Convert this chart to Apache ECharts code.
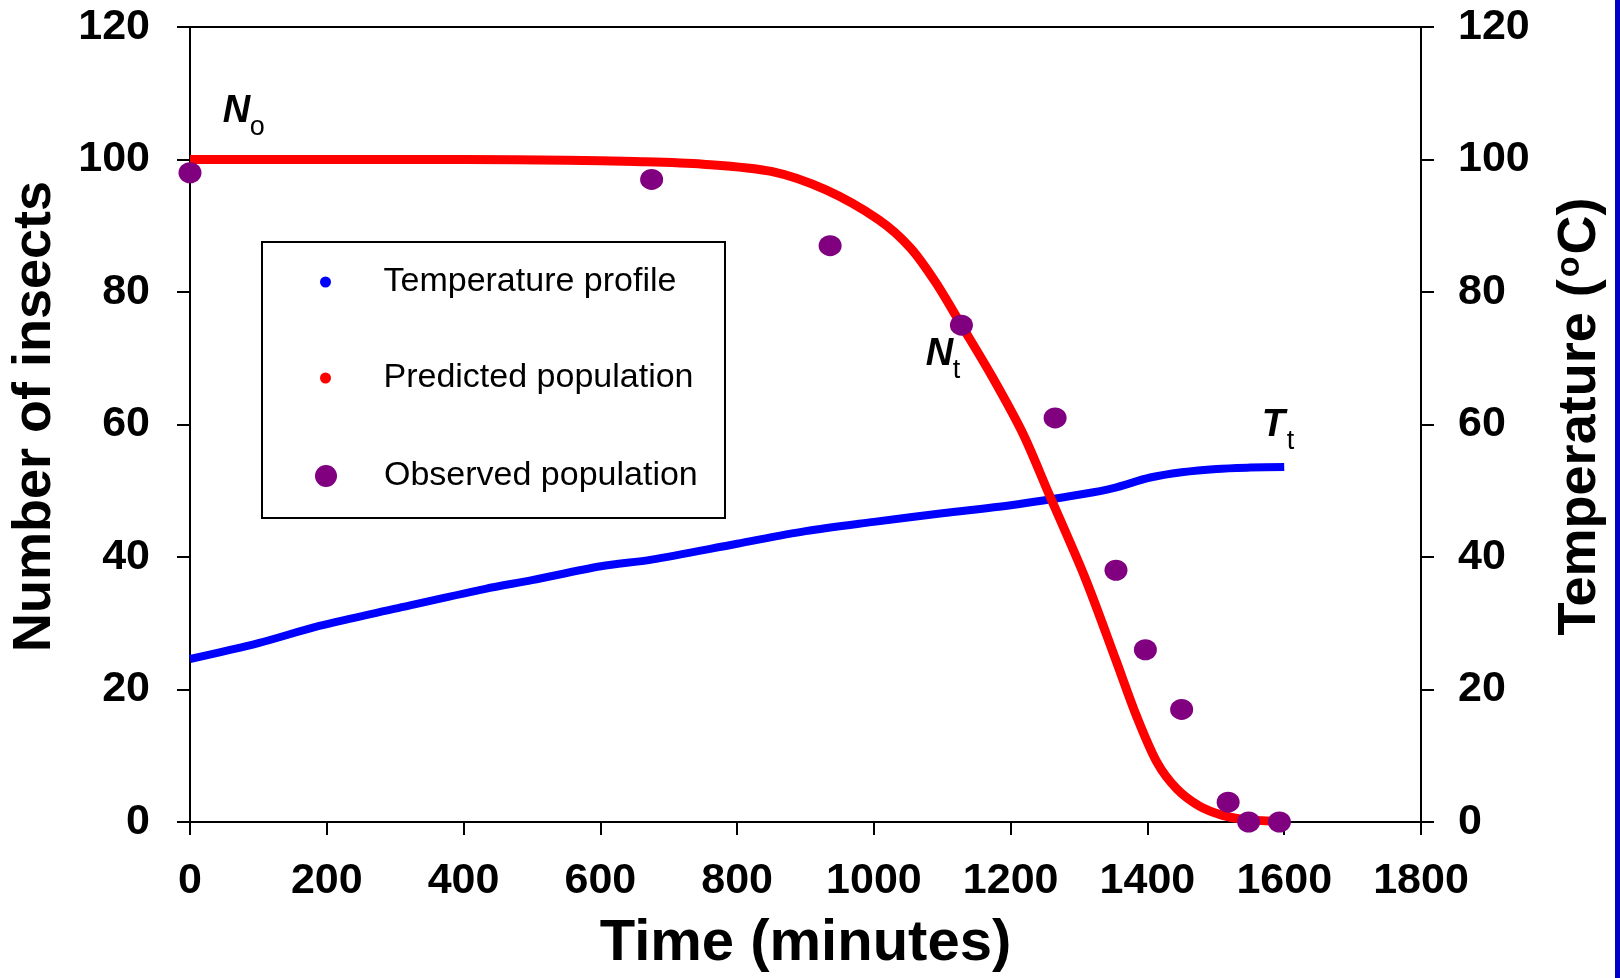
<!DOCTYPE html>
<html>
<head>
<meta charset="utf-8">
<script src="https://cdn.jsdelivr.net/npm/echarts@6/dist/echarts.min.js"></script>
<style>
html, body { margin: 0; padding: 0; background: #fff; }
#chart { width: 1620px; height: 978px; }
</style>
</head>
<body>
<div id="chart"></div>
<script>
// temperature profile (right axis, deg C)
const tempTime = [0, 100, 189, 300, 432, 500, 601, 675, 800, 900, 1000, 1100, 1200, 1306, 1350, 1404, 1450, 1501, 1550, 1600]
const tempValue = [24.6, 27.0, 29.6, 32.2, 35.2, 36.5, 38.6, 39.6, 42.0, 43.9, 45.3, 46.6, 47.8, 49.5, 50.4, 52.0, 52.8, 53.3, 53.5, 53.6]

// predicted population (left axis)
const predTime = [0, 200, 400, 550, 650, 750, 850, 930, 1007, 1053, 1090, 1128, 1173, 1218, 1256, 1309, 1354, 1384, 1414, 1443, 1476, 1510, 1540, 1590]
const predValue = [100, 100, 100, 99.9, 99.7, 99.3, 98.2, 95.4, 90.9, 86.7, 81.5, 75.0, 67.2, 58.6, 49.5, 36.8, 24.4, 16.0, 9.0, 5.0, 2.4, 1.0, 0.4, 0.1]

// observed population
const obsTime = [0, 675, 936, 1128, 1265, 1354, 1397, 1450, 1518, 1548, 1593]
const obsValue = [98, 97, 87, 75, 61, 38, 26, 17, 3, 0, 0]

// annotations (value at the middle of the big letter)
const annoMain = ['N', 'N', 'T']
const annoSub = ['o', 't', 't']
const annoTime = [48, 1076, 1567]
const annoLevel = [107.3, 70.6, 59.8]

const font = 'Liberation Sans'
const zip = (a, b) => a.map((v, i) => [v, b[i]])

const chart = echarts.init(document.getElementById('chart'))

const axisCommon = {
    axisLine: { show: true, lineStyle: { color: '#000', width: 2 } },
    axisTick: { show: true, inside: false, length: 13, lineStyle: { color: '#000', width: 2 } },
    splitLine: { show: false },
    axisLabel: { color: '#000', fontFamily: font, fontWeight: 'bold', fontSize: 43, formatter: v => String(v) },
}

// legend item left edge = left edge of its symbol
const legendCommon = {
    padding: 0, icon: 'circle', itemWidth: 106,
    textStyle: { color: '#000', fontFamily: font, fontSize: 34 },
}

const option = {
    animation: false,
    backgroundColor: '#fff',
    grid: { left: 187, right: 199, top: 27, bottom: 155, show: true, borderColor: '#000', borderWidth: 2 },
    xAxis: {
        ...axisCommon,
        type: 'value', min: 0, max: 1800, interval: 200,
        axisLabel: { ...axisCommon.axisLabel, margin: 38 },
        name: 'Time (minutes)', nameLocation: 'middle', nameGap: 93,
        nameTextStyle: { color: '#000', fontFamily: font, fontWeight: 'bold', fontSize: 58 },
    },
    yAxis: [{
        ...axisCommon,
        type: 'value', min: 0, max: 120, interval: 20, position: 'left',
        axisLabel: { ...axisCommon.axisLabel, margin: 40 },
        name: 'Number of insects', nameLocation: 'middle', nameGap: 128, nameRotate: 90,
        nameTextStyle: { color: '#000', fontFamily: font, fontWeight: 'bold', fontSize: 54, padding: [0, 0, 0, 16] },
    }, {
        ...axisCommon,
        type: 'value', min: 0, max: 120, interval: 20, position: 'right',
        axisLabel: { ...axisCommon.axisLabel, margin: 37 },
        name: '{t|Temperature (}{s|o}{t|C)}', nameLocation: 'middle', nameGap: 132, nameRotate: 90,
        nameTextStyle: {
            color: '#000', fontFamily: font, fontWeight: 'bold', fontSize: 54, padding: [0, 0, 0, 16],
            rich: {
                t: { fontFamily: font, fontWeight: 'bold', fontSize: 54, color: '#000', verticalAlign: 'middle' },
                s: { fontFamily: font, fontSize: 34, color: '#000', verticalAlign: 'top', padding: [0, 2, 14, 2] },
            },
        },
    }],
    legend: [
        { ...legendCommon, data: ['Temperature profile'], left: 320, top: 265, itemHeight: 11 },
        { ...legendCommon, data: ['Predicted population'], left: 320, top: 361, itemHeight: 11 },
        { ...legendCommon, data: ['Observed population'], left: 315, top: 459, itemHeight: 22 },
    ],
    series: [{
        name: 'Temperature profile', type: 'line', yAxisIndex: 1,
        data: zip(tempTime, tempValue), smooth: 0.3, showSymbol: false,
        color: '#0000FF', lineStyle: { color: '#0000FF', width: 8 },
    }, {
        name: 'Predicted population', type: 'line', yAxisIndex: 0,
        data: zip(predTime, predValue), smooth: 0.3, showSymbol: false,
        color: '#FF0000', lineStyle: { color: '#FF0000', width: 9 },
    }, {
        name: 'Observed population', type: 'scatter', yAxisIndex: 0,
        data: zip(obsTime, obsValue), symbolSize: [23, 21],
        color: '#800080', itemStyle: { color: '#800080', opacity: 1 }, z: 5,
    }],
}
chart.setOption(option)

// legend frame, annotations and the blue strip at the right edge
const graphics = [{
    type: 'rect', shape: { x: 262, y: 242, width: 463, height: 276 },
    style: { fill: null, stroke: '#000', lineWidth: 2 }, z: 10,
}, {
    type: 'rect', shape: { x: 1615, y: 0, width: 5, height: 978 },
    style: { fill: '#0000C8' }, z: 10,
}]
annoMain.forEach((m, i) => {
    const p = chart.convertToPixel({ xAxisIndex: 0, yAxisIndex: 0 }, [annoTime[i], annoLevel[i]])
    graphics.push({
        type: 'text', x: p[0], y: p[1], z: 10,
        style: { text: m, font: 'italic bold 38px ' + font, fill: '#000', verticalAlign: 'middle' },
    })
    graphics.push({
        type: 'text', x: p[0] + (m === 'T' ? 25 : 27), y: p[1] + 16, z: 10,
        style: { text: annoSub[i], font: '27px ' + font, fill: '#000', verticalAlign: 'middle' },
    })
})
chart.setOption({ graphic: graphics })
</script>
</body>
</html>
